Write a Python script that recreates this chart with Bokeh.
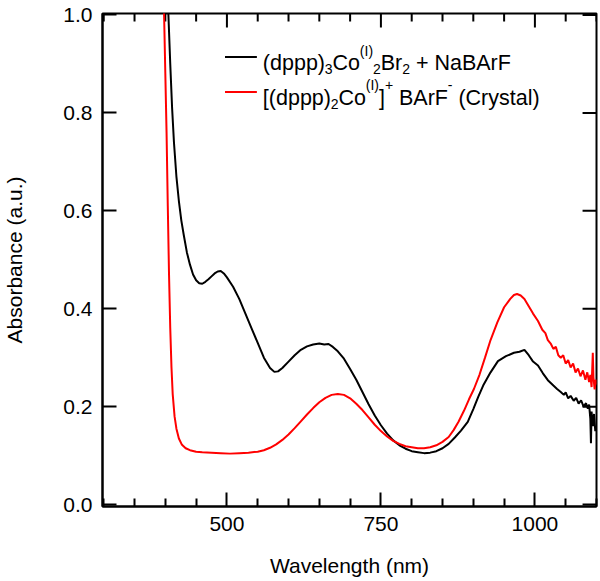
from bokeh.plotting import figure
from bokeh.models import FixedTicker, NumeralTickFormatter, Label, Range1d
from bokeh.embed import file_html
from bokeh.resources import INLINE

FONT = "Liberation Sans"

# ---------------- data ----------------
wl_black = [403, 405, 408, 411, 414, 418, 422, 426, 430, 435, 440, 445, 450, 455, 460,
            465, 470, 475, 480, 485, 490, 495, 500, 510, 520, 530, 540, 550, 560, 570,
            577, 583, 590, 600, 610, 620, 630, 640, 650, 658, 665, 672, 680, 690, 700,
            710, 720, 730, 740, 750, 760, 770, 780, 790, 800, 810, 820, 830, 840, 850,
            860, 870, 880, 891, 900, 908, 916, 928, 940, 953, 966, 975, 983, 990, 997,
            1005, 1013, 1021, 1030, 1036, 1042, 1047, 1050, 1054, 1058, 1063, 1067, 1071,
            1075, 1079, 1083, 1086, 1088, 1090, 1091, 1092, 1094, 1096, 1098, 1100]
abs_black = [1.05, 1.0, 0.90, 0.81, 0.74, 0.67, 0.62, 0.58, 0.55, 0.515, 0.49, 0.47, 0.458,
             0.452, 0.451, 0.455, 0.46, 0.466, 0.472, 0.476, 0.477, 0.472, 0.464, 0.445,
             0.42, 0.39, 0.36, 0.33, 0.30, 0.279, 0.271, 0.272, 0.279, 0.292, 0.305, 0.316,
             0.323, 0.327, 0.329, 0.327, 0.328, 0.322, 0.313, 0.298, 0.277, 0.255, 0.23,
             0.205, 0.182, 0.162, 0.145, 0.131, 0.121, 0.114, 0.109, 0.107, 0.105, 0.106,
             0.109, 0.115, 0.124, 0.137, 0.151, 0.169, 0.195, 0.22, 0.243, 0.27, 0.293,
             0.303, 0.31, 0.312, 0.316, 0.305, 0.292, 0.284, 0.268, 0.254, 0.243, 0.236,
             0.23, 0.224, 0.229, 0.217, 0.222, 0.212, 0.218, 0.206, 0.213, 0.2, 0.207,
             0.196, 0.204, 0.175, 0.125, 0.19, 0.16, 0.185, 0.15, 0.16]

wl_red = [396, 398, 400, 402, 404, 406, 408, 410, 412, 415, 418, 422, 427, 433, 440, 450,
          460, 475, 490, 505, 520, 535, 550, 560, 570, 580, 590, 600, 610, 620, 630, 640,
          650, 660, 670, 680, 690, 700, 710, 720, 730, 740, 750, 760, 770, 780, 790, 800,
          810, 820, 830, 840, 850, 860, 868, 876, 885, 893, 901, 910, 919, 928, 939, 950,
          960, 966, 971, 977, 983, 990, 997, 1005, 1012, 1017, 1021, 1026, 1030, 1034,
          1038, 1042, 1046, 1050, 1054, 1058, 1062, 1066, 1070, 1074, 1078, 1082, 1085,
          1088, 1090, 1092, 1094, 1095, 1097, 1099, 1100]
abs_red = [1.05, 1.0, 0.88, 0.76, 0.61, 0.47, 0.36, 0.28, 0.225, 0.18, 0.155, 0.135, 0.122,
           0.115, 0.111, 0.108, 0.107, 0.106, 0.105, 0.104, 0.105, 0.106, 0.108, 0.111,
           0.116, 0.123, 0.132, 0.143, 0.156, 0.17, 0.184, 0.197, 0.209, 0.218, 0.224,
           0.226, 0.224, 0.217, 0.206, 0.193, 0.178, 0.163, 0.15, 0.139, 0.13, 0.124,
           0.119, 0.117, 0.115, 0.115, 0.117, 0.121, 0.128, 0.138, 0.152, 0.169, 0.192,
           0.215, 0.236, 0.265, 0.3, 0.336, 0.372, 0.403, 0.42, 0.428, 0.43, 0.427, 0.42,
           0.405, 0.39, 0.375, 0.357, 0.35, 0.336, 0.328, 0.318, 0.322, 0.305, 0.3, 0.305,
           0.288, 0.295, 0.28, 0.288, 0.27, 0.278, 0.262, 0.274, 0.255, 0.27, 0.25, 0.265,
           0.24, 0.31, 0.26, 0.235, 0.255, 0.245]

x_major = [500, 750, 1000]
x_minor = [300, 350, 400, 450, 550, 600, 650, 700, 800, 850, 900, 950, 1050, 1100]
y_ticks = [0.0, 0.2, 0.4, 0.6, 0.8, 1.0]

X0, X1 = 298, 1100
Y0, Y1 = -0.004, 1.003
W, H = 600, 581
ML, MR, MT, MB = 100, 4, 13, 75
FW, FH = W - ML - MR, H - MT - MB
px_x = (X1 - X0) / FW          # data units per pixel
px_y = (Y1 - Y0) / FH
MAJ, MIN = 14, 8               # inward tick lengths (px)

p = figure(width=W, height=H, x_range=Range1d(X0, X1), y_range=Range1d(Y0, Y1),
           output_backend="svg", toolbar_location=None,
           min_border_left=ML, min_border_right=MR, min_border_top=MT, min_border_bottom=MB,
           x_axis_label="Wavelength (nm)", y_axis_label="Absorbance (a.u.)")
p.grid.visible = False
p.background_fill_color = "white"
p.border_fill_color = "white"
p.outline_line_color = "black"
p.outline_line_width = 2


def style_axis(ax):
    ax.axis_line_color = "black"
    ax.axis_line_width = 2
    ax.major_tick_in = MAJ
    ax.major_tick_out = 0
    ax.minor_tick_in = MIN
    ax.minor_tick_out = 0
    ax.major_tick_line_width = 2
    ax.minor_tick_line_width = 2
    ax.major_tick_line_color = "black"
    ax.minor_tick_line_color = "black"
    ax.major_label_text_font = FONT
    ax.major_label_text_font_size = "21px"
    ax.major_label_text_color = "black"
    ax.axis_label_text_font = FONT
    ax.axis_label_text_font_size = "21px"
    ax.axis_label_text_font_style = "normal"
    ax.axis_label_text_color = "black"


xb = p.xaxis[0]
xb.ticker = FixedTicker(ticks=x_major, minor_ticks=x_minor)
style_axis(xb)
xb.major_label_standoff = 10
xb.axis_label_standoff = 20

yl = p.yaxis[0]
yl.ticker = FixedTicker(ticks=y_ticks, minor_ticks=[])
yl.formatter = NumeralTickFormatter(format="0.0")
style_axis(yl)
yl.major_label_standoff = 10
yl.axis_label_standoff = 34

# mirrored inward ticks on the top and right edges
tick_kw = dict(line_color="black", line_width=2, line_cap="butt")
p.segment(x0=x_major, x1=x_major, y0=[Y1] * len(x_major),
          y1=[Y1 - MAJ * px_y] * len(x_major), **tick_kw)
p.segment(x0=x_minor, x1=x_minor, y0=[Y1] * len(x_minor),
          y1=[Y1 - MIN * px_y] * len(x_minor), **tick_kw)
p.segment(x0=[X1] * len(y_ticks), x1=[X1 - MAJ * px_x] * len(y_ticks),
          y0=y_ticks, y1=y_ticks, **tick_kw)

p.line(wl_black, abs_black, line_color="black", line_width=2)
p.line(wl_red, abs_red, line_color="#ff0000", line_width=2)

# ---------------- legend (rich text built from pieces) ----------------
ARIAL = {"(": .333, ")": .333, "[": .278, "]": .278, "d": .556, "p": .556, "C": .722,
         "o": .556, "B": .667, "r": .333, "N": .722, "a": .556, "A": .667, "F": .611,
         " ": .278, "+": .584, "-": .333, "I": .278, "y": .5, "s": .5, "t": .278,
         "l": .222, "0": .556, "1": .556, "2": .556, "3": .556}


def tw(s, size):
    return sum(ARIAL.get(c, .556) for c in s) * size


def page_y(py):
    return Y1 - (py - MT) * px_y


def page_x(px):
    return X0 + (px - ML) * px_x


BIG, SMALL = 21.5, 14
rows = [
    ("black", 56.5, 62.7,
     [("(dppp)", 0), ("3", -1), ("Co", 0), ("(I)", 1), ("2", -1), ("Br", 0), ("2", -1),
      (" + NaBArF", 0)]),
    ("#ff0000", 91.5, 97.3,
     [("[(dppp)", 0), ("2", -1), ("Co", 0), ("(I)", 1), ("]", 0), ("+", 1), (" BArF", 0),
      ("-", 1), (" (Crystal)", 0)]),
]
LINE_PX0, LINE_PX1, TEXT_PX = 223, 255, 261

for color, ly, base, pieces in rows:
    p.segment(x0=[page_x(LINE_PX0)], y0=[page_y(ly)], x1=[page_x(LINE_PX1)], y1=[page_y(ly)],
              line_color=color, line_width=2)
    cx = 0.0
    for txt, pos in pieces:
        size = BIG if pos == 0 else SMALL
        dy = 0 if pos == 0 else (-6 if pos < 0 else 12.5)
        lead = len(txt) - len(txt.lstrip(" "))
        cx += tw(" " * lead, size)
        body = txt.lstrip(" ")
        p.add_layout(Label(x=page_x(TEXT_PX + cx), y=page_y(base) + dy * px_y, text=body,
                           text_font=FONT, text_font_size=f"{size}px",
                           text_color="black", text_baseline="alphabetic",
                           text_align="left"))
        cx += tw(body, size)

open("out.html", "w").write(file_html(p, INLINE))
